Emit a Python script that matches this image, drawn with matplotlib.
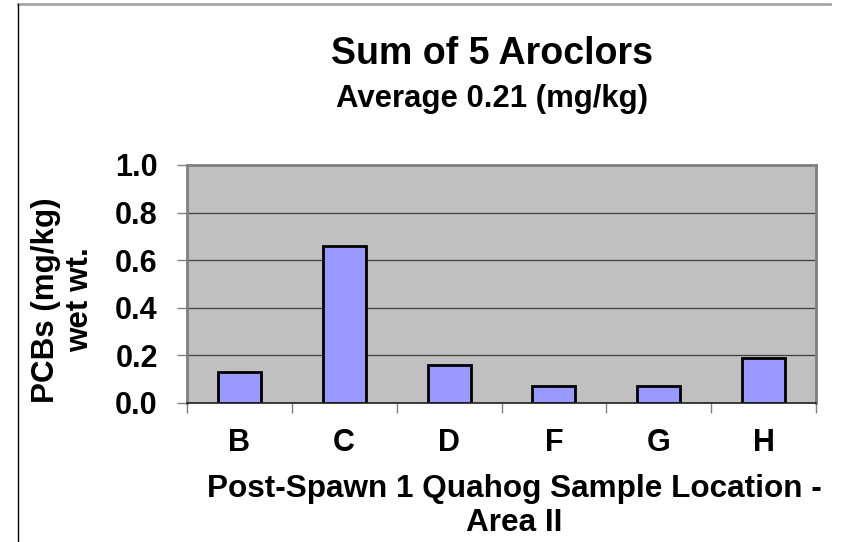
import numpy as np
import matplotlib.pyplot as plt
from matplotlib.lines import Line2D

locations = ["B", "C", "D", "F", "G", "H"]
pcbs = [0.13, 0.66, 0.16, 0.07, 0.07, 0.19]

plt.rcParams['font.family'] = ['Liberation Sans', 'DejaVu Sans']
plt.rcParams['font.weight'] = 'bold'

W, H = 842, 542
fig = plt.figure(figsize=(W / 100, H / 100), dpi=100)
ax = fig.add_axes([187 / W, 1 - 403 / H, (816 - 187) / W, (403 - 165) / H])

x = np.arange(len(locations))
ax.set_facecolor("#C0C0C0")
ax.set_axisbelow(True)
ax.yaxis.grid(True, color="#404040", linewidth=0.9)
ax.bar(x, pcbs, width=0.41, color="#9999FF", edgecolor="black", linewidth=2)

ax.set_xlim(-0.5, len(locations) - 0.5)
ax.set_ylim(0, 1.0)
ax.set_yticks(np.arange(0, 1.01, 0.2))
ax.set_yticklabels(["%.1f" % v for v in np.arange(0, 1.01, 0.2)], fontsize=22, fontweight='bold')

# tick marks between categories, labels at category centres
ax.set_xticks(np.arange(-0.5, len(locations), 1.0))
ax.set_xticklabels([])
ax.set_xticks(x, minor=True)
ax.set_xticklabels(locations, minor=True, fontsize=22, fontweight='bold')
ax.tick_params(axis='x', which='major', length=7, width=1, color="#808080", direction='out')
ax.tick_params(axis='x', which='minor', length=0, pad=18)
ax.tick_params(axis='y', length=7, width=1, color="#808080", direction='out', pad=14)

for s in ["top", "right", "left"]:
    ax.spines[s].set_color("#808080")
    ax.spines[s].set_linewidth(2)
ax.spines["bottom"].set_color("#202020")
ax.spines["bottom"].set_linewidth(1.2)

fig.text(492 / W, 1 - 64 / H, "Sum of 5 Aroclors", ha='center', va='baseline',
         fontsize=27, fontweight='bold')
fig.text(492 / W, 1 - 107 / H, "Average 0.21 (mg/kg)", ha='center', va='baseline',
         fontsize=22.4, fontweight='bold')

fig.text(514 / W, 1 - 506 / H, "Post-Spawn 1 Quahog Sample Location -\nArea II",
         ha='center', va='center', multialignment='center', fontsize=22.7,
         fontweight='bold', linespacing=1.15)
fig.text(63 / W, 1 - 300 / H, "PCBs (mg/kg)\nwet wt.", rotation=90, ha='center',
         va='center', multialignment='center', fontsize=22.6, fontweight='bold',
         linespacing=1.2)

# partial outer chart border
fig.add_artist(Line2D([18 / W, 830 / W], [1 - 4 / H, 1 - 4 / H], color="#A6A6A6", linewidth=2))
fig.add_artist(Line2D([18 / W, 18 / W], [1 - 4 / H, 0], color="black", linewidth=1))

fig.savefig("out.png", dpi=100)
